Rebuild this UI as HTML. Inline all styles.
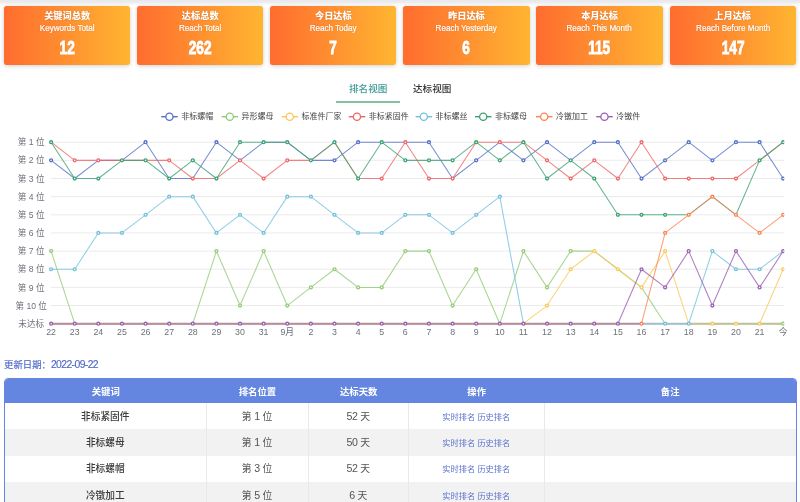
<!DOCTYPE html>
<html lang="zh-CN"><head><meta charset="utf-8"><title>排名统计</title>
<style>
*{margin:0;padding:0;box-sizing:border-box}
html,body{width:800px;height:502px;overflow:hidden;background:#fff;font-family:"Liberation Sans","Noto Sans CJK SC",sans-serif}
.topbar{position:absolute;left:0;top:0;width:800px;height:4.5px;background:linear-gradient(#e8e8eb,#ececef 45%,#fff)}
.card{position:absolute;top:5.5px;width:126.3px;height:59px;border-radius:2.5px;background:linear-gradient(to right,#ff6c2f,#ffb531);box-shadow:0 0 4px rgba(0,0,0,.13),0 2px 4px rgba(0,0,0,.08);color:#fff;text-align:center}
.ct{position:absolute;left:0;right:0;top:4.6px;font-size:9.2px;font-weight:900;line-height:12px;text-shadow:0 0 1.5px rgba(140,50,0,.45)}
.cs{position:absolute;left:0;right:0;top:17.9px;font-size:8.7px;line-height:10px;transform:scaleX(.93);-webkit-text-stroke:.2px #fff;text-shadow:0 0 1.5px rgba(140,50,0,.4)}
.cn{position:absolute;left:0;right:0;top:31.8px;font-family:"Liberation Sans",sans-serif;font-size:17.5px;font-weight:bold;line-height:22px;transform:scaleX(.78);-webkit-text-stroke:.9px #fff;text-shadow:0 0 1.5px rgba(140,50,0,.45)}
.tabs{position:absolute;top:82.4px;left:0;width:800px;height:22px}
.tab{position:absolute;top:0;font-size:9.6px;line-height:13px;color:#333;font-weight:500}
.tab.on{color:#3d9a94}
.uline{position:absolute;left:336px;top:101px;width:64px;height:2px;background:#86c2a0}
.chart{position:absolute;left:0;top:0}
.yl{font-size:8.6px;fill:#6e7079;text-anchor:middle;font-family:"Liberation Sans","Noto Sans CJK SC",sans-serif}
.xl{font-size:8.8px;fill:#6e7079;text-anchor:middle;font-family:"Liberation Sans","Noto Sans CJK SC",sans-serif}
.lg{font-size:8px;fill:#444;font-family:"Liberation Sans","Noto Sans CJK SC",sans-serif}
.upd{position:absolute;left:4px;top:358.8px;font-size:9.4px;line-height:12px;color:#5069c8;-webkit-text-stroke:.15px #5069c8}
.ud{font-size:10.4px;letter-spacing:-.6px}
table{position:absolute;left:4px;top:378px;width:793px;border-collapse:separate;border-spacing:0;border:1px solid #6486e0;border-radius:4px 4px 0 0;overflow:hidden;table-layout:fixed}
th{background:#6486e0;color:#fff;font-weight:bold;font-size:9.4px;height:24px;text-align:center;padding-bottom:0}
td{height:26.4px;font-size:9.8px;text-align:center;color:#555;padding-bottom:1px;border-right:1px solid #e9e9e9}
td:last-child{border-right:none}
tr.odd td{background:#f2f2f2}
.n{font-size:10.6px;letter-spacing:-.3px}
td.kw{color:#3a3a3a;font-weight:500;font-size:9.7px}
td.op{color:#5b70d0;font-size:8.2px}
</style></head><body>
<div class="topbar"></div>
<div class="card" style="left:4.00px"><div class="ct">关键词总数</div><div class="cs">Keywords Total</div><div class="cn">12</div></div>
<div class="card" style="left:137.10px"><div class="ct">达标总数</div><div class="cs">Reach Total</div><div class="cn">262</div></div>
<div class="card" style="left:270.20px"><div class="ct">今日达标</div><div class="cs">Reach Today</div><div class="cn">7</div></div>
<div class="card" style="left:403.30px"><div class="ct">昨日达标</div><div class="cs">Reach Yesterday</div><div class="cn">6</div></div>
<div class="card" style="left:536.40px"><div class="ct">本月达标</div><div class="cs">Reach This Month</div><div class="cn">115</div></div>
<div class="card" style="left:669.50px"><div class="ct">上月达标</div><div class="cs">Reach Before Month</div><div class="cn">147</div></div>
<div class="tabs"><div class="tab on" style="left:349px">排名视图</div><div class="tab" style="left:413px">达标视图</div></div>
<div class="uline"></div>
<svg class="chart" width="800" height="350" viewBox="0 0 800 350">
<defs><clipPath id="clip"><rect x="0" y="120" width="784.2" height="220"/></clipPath></defs>
<line x1="51.1" y1="142.2" x2="784.2" y2="142.2" stroke="#ebebeb" stroke-width="1"/>
<line x1="51.1" y1="160.3" x2="784.2" y2="160.3" stroke="#ebebeb" stroke-width="1"/>
<line x1="51.1" y1="178.5" x2="784.2" y2="178.5" stroke="#ebebeb" stroke-width="1"/>
<line x1="51.1" y1="196.6" x2="784.2" y2="196.6" stroke="#ebebeb" stroke-width="1"/>
<line x1="51.1" y1="214.8" x2="784.2" y2="214.8" stroke="#ebebeb" stroke-width="1"/>
<line x1="51.1" y1="232.9" x2="784.2" y2="232.9" stroke="#ebebeb" stroke-width="1"/>
<line x1="51.1" y1="251.1" x2="784.2" y2="251.1" stroke="#ebebeb" stroke-width="1"/>
<line x1="51.1" y1="269.2" x2="784.2" y2="269.2" stroke="#ebebeb" stroke-width="1"/>
<line x1="51.1" y1="287.4" x2="784.2" y2="287.4" stroke="#ebebeb" stroke-width="1"/>
<line x1="51.1" y1="305.5" x2="784.2" y2="305.5" stroke="#ebebeb" stroke-width="1"/>
<line x1="51.1" y1="323.7" x2="784.2" y2="323.7" stroke="#ebebeb" stroke-width="1"/>
<text x="31.2" y="145.3" class="yl">第 1 位</text>
<text x="31.2" y="163.4" class="yl">第 2 位</text>
<text x="31.2" y="181.6" class="yl">第 3 位</text>
<text x="31.2" y="199.7" class="yl">第 4 位</text>
<text x="31.2" y="217.9" class="yl">第 5 位</text>
<text x="31.2" y="236.0" class="yl">第 6 位</text>
<text x="31.2" y="254.2" class="yl">第 7 位</text>
<text x="31.2" y="272.4" class="yl">第 8 位</text>
<text x="31.2" y="290.5" class="yl">第 9 位</text>
<text x="31.2" y="308.6" class="yl">第 10 位</text>
<text x="31.2" y="326.8" class="yl">未达标</text>
<text x="51.1" y="335.3" class="xl">22</text>
<text x="74.7" y="335.3" class="xl">23</text>
<text x="98.3" y="335.3" class="xl">24</text>
<text x="121.9" y="335.3" class="xl">25</text>
<text x="145.6" y="335.3" class="xl">26</text>
<text x="169.2" y="335.3" class="xl">27</text>
<text x="192.8" y="335.3" class="xl">28</text>
<text x="216.4" y="335.3" class="xl">29</text>
<text x="240.0" y="335.3" class="xl">30</text>
<text x="263.6" y="335.3" class="xl">31</text>
<text x="287.3" y="335.3" class="xl">9月</text>
<text x="310.9" y="335.3" class="xl">2</text>
<text x="334.5" y="335.3" class="xl">3</text>
<text x="358.1" y="335.3" class="xl">4</text>
<text x="381.7" y="335.3" class="xl">5</text>
<text x="405.3" y="335.3" class="xl">6</text>
<text x="429.0" y="335.3" class="xl">7</text>
<text x="452.6" y="335.3" class="xl">8</text>
<text x="476.2" y="335.3" class="xl">9</text>
<text x="499.8" y="335.3" class="xl">10</text>
<text x="523.4" y="335.3" class="xl">11</text>
<text x="547.0" y="335.3" class="xl">12</text>
<text x="570.7" y="335.3" class="xl">13</text>
<text x="594.3" y="335.3" class="xl">14</text>
<text x="617.9" y="335.3" class="xl">15</text>
<text x="641.5" y="335.3" class="xl">16</text>
<text x="665.1" y="335.3" class="xl">17</text>
<text x="688.7" y="335.3" class="xl">18</text>
<text x="712.3" y="335.3" class="xl">19</text>
<text x="736.0" y="335.3" class="xl">20</text>
<text x="759.6" y="335.3" class="xl">21</text>
<text x="783.2" y="335.3" class="xl">今</text>
<g clip-path="url(#clip)">
<polyline points="51.10,160.35 74.72,178.50 98.33,160.35 121.95,160.35 145.56,142.20 169.18,178.50 192.80,178.50 216.41,142.20 240.03,160.35 263.64,142.20 287.26,142.20 310.88,160.35 334.49,160.35 358.11,142.20 381.72,142.20 405.34,142.20 428.96,142.20 452.57,178.50 476.19,160.35 499.80,142.20 523.42,160.35 547.04,142.20 570.65,160.35 594.27,142.20 617.88,142.20 641.50,178.50 665.12,160.35 688.73,142.20 712.35,160.35 735.96,142.20 759.58,142.20 783.20,178.50" fill="none" stroke="#5470c6" stroke-width="1.05" stroke-opacity="0.8" stroke-linejoin="round"/>
<polyline points="51.10,251.10 74.72,323.70 98.33,323.70 121.95,323.70 145.56,323.70 169.18,323.70 192.80,323.70 216.41,251.10 240.03,305.55 263.64,251.10 287.26,305.55 310.88,287.40 334.49,269.25 358.11,287.40 381.72,287.40 405.34,251.10 428.96,251.10 452.57,305.55 476.19,269.25 499.80,323.70 523.42,251.10 547.04,287.40 570.65,251.10 594.27,251.10 617.88,269.25 641.50,287.40 665.12,323.70 688.73,323.70 712.35,323.70 735.96,323.70 759.58,323.70 783.20,323.70" fill="none" stroke="#91cc75" stroke-width="1.05" stroke-opacity="0.8" stroke-linejoin="round"/>
<polyline points="51.10,323.70 74.72,323.70 98.33,323.70 121.95,323.70 145.56,323.70 169.18,323.70 192.80,323.70 216.41,323.70 240.03,323.70 263.64,323.70 287.26,323.70 310.88,323.70 334.49,323.70 358.11,323.70 381.72,323.70 405.34,323.70 428.96,323.70 452.57,323.70 476.19,323.70 499.80,323.70 523.42,323.70 547.04,305.55 570.65,269.25 594.27,251.10 617.88,269.25 641.50,287.40 665.12,251.10 688.73,323.70 712.35,323.70 735.96,323.70 759.58,323.70 783.20,269.25" fill="none" stroke="#fac858" stroke-width="1.05" stroke-opacity="0.8" stroke-linejoin="round"/>
<polyline points="51.10,142.20 74.72,160.35 98.33,160.35 121.95,160.35 145.56,160.35 169.18,160.35 192.80,178.50 216.41,178.50 240.03,160.35 263.64,178.50 287.26,160.35 310.88,160.35 334.49,142.20 358.11,178.50 381.72,178.50 405.34,142.20 428.96,178.50 452.57,178.50 476.19,142.20 499.80,142.20 523.42,142.20 547.04,160.35 570.65,178.50 594.27,160.35 617.88,178.50 641.50,142.20 665.12,178.50 688.73,178.50 712.35,178.50 735.96,178.50 759.58,160.35 783.20,142.20" fill="none" stroke="#ee6666" stroke-width="1.05" stroke-opacity="0.8" stroke-linejoin="round"/>
<polyline points="51.10,269.25 74.72,269.25 98.33,232.95 121.95,232.95 145.56,214.80 169.18,196.65 192.80,196.65 216.41,232.95 240.03,214.80 263.64,232.95 287.26,196.65 310.88,196.65 334.49,214.80 358.11,232.95 381.72,232.95 405.34,214.80 428.96,214.80 452.57,232.95 476.19,214.80 499.80,196.65 523.42,323.70 547.04,323.70 570.65,323.70 594.27,323.70 617.88,323.70 641.50,323.70 665.12,323.70 688.73,323.70 712.35,251.10 735.96,269.25 759.58,269.25 783.20,251.10" fill="none" stroke="#73c0de" stroke-width="1.05" stroke-opacity="0.8" stroke-linejoin="round"/>
<polyline points="51.10,142.20 74.72,178.50 98.33,178.50 121.95,160.35 145.56,160.35 169.18,178.50 192.80,160.35 216.41,178.50 240.03,142.20 263.64,142.20 287.26,142.20 310.88,160.35 334.49,142.20 358.11,178.50 381.72,142.20 405.34,160.35 428.96,160.35 452.57,160.35 476.19,142.20 499.80,160.35 523.42,142.20 547.04,178.50 570.65,160.35 594.27,178.50 617.88,214.80 641.50,214.80 665.12,214.80 688.73,214.80 712.35,196.65 735.96,214.80 759.58,160.35 783.20,142.20" fill="none" stroke="#3ba272" stroke-width="1.05" stroke-opacity="0.8" stroke-linejoin="round"/>
<polyline points="51.10,323.70 74.72,323.70 98.33,323.70 121.95,323.70 145.56,323.70 169.18,323.70 192.80,323.70 216.41,323.70 240.03,323.70 263.64,323.70 287.26,323.70 310.88,323.70 334.49,323.70 358.11,323.70 381.72,323.70 405.34,323.70 428.96,323.70 452.57,323.70 476.19,323.70 499.80,323.70 523.42,323.70 547.04,323.70 570.65,323.70 594.27,323.70 617.88,323.70 641.50,323.70 665.12,232.95 688.73,214.80 712.35,196.65 735.96,214.80 759.58,232.95 783.20,214.80" fill="none" stroke="#fc8452" stroke-width="1.05" stroke-opacity="0.8" stroke-linejoin="round"/>
<polyline points="51.10,323.70 74.72,323.70 98.33,323.70 121.95,323.70 145.56,323.70 169.18,323.70 192.80,323.70 216.41,323.70 240.03,323.70 263.64,323.70 287.26,323.70 310.88,323.70 334.49,323.70 358.11,323.70 381.72,323.70 405.34,323.70 428.96,323.70 452.57,323.70 476.19,323.70 499.80,323.70 523.42,323.70 547.04,323.70 570.65,323.70 594.27,323.70 617.88,323.70 641.50,269.25 665.12,287.40 688.73,251.10 712.35,305.55 735.96,251.10 759.58,287.40 783.20,251.10" fill="none" stroke="#9a60b4" stroke-width="1.05" stroke-opacity="0.8" stroke-linejoin="round"/>
<line x1="51.10" y1="323.70" x2="641.50" y2="323.70" stroke="#b3909e" stroke-width="1.9"/>
<line x1="641.50" y1="323.70" x2="688.73" y2="323.70" stroke="#a2c0c9" stroke-width="1.9"/>
<line x1="688.73" y1="323.70" x2="783.20" y2="323.70" stroke="#c0c197" stroke-width="1.9"/>
<circle cx="51.10" cy="160.35" r="1.45" fill="#fff" stroke="#5470c6" stroke-width="1.35"/>
<circle cx="145.56" cy="142.20" r="1.45" fill="#fff" stroke="#5470c6" stroke-width="1.35"/>
<circle cx="216.41" cy="142.20" r="1.45" fill="#fff" stroke="#5470c6" stroke-width="1.35"/>
<circle cx="334.49" cy="160.35" r="1.45" fill="#fff" stroke="#5470c6" stroke-width="1.35"/>
<circle cx="358.11" cy="142.20" r="1.45" fill="#fff" stroke="#5470c6" stroke-width="1.35"/>
<circle cx="428.96" cy="142.20" r="1.45" fill="#fff" stroke="#5470c6" stroke-width="1.35"/>
<circle cx="476.19" cy="160.35" r="1.45" fill="#fff" stroke="#5470c6" stroke-width="1.35"/>
<circle cx="523.42" cy="160.35" r="1.45" fill="#fff" stroke="#5470c6" stroke-width="1.35"/>
<circle cx="547.04" cy="142.20" r="1.45" fill="#fff" stroke="#5470c6" stroke-width="1.35"/>
<circle cx="594.27" cy="142.20" r="1.45" fill="#fff" stroke="#5470c6" stroke-width="1.35"/>
<circle cx="617.88" cy="142.20" r="1.45" fill="#fff" stroke="#5470c6" stroke-width="1.35"/>
<circle cx="641.50" cy="178.50" r="1.45" fill="#fff" stroke="#5470c6" stroke-width="1.35"/>
<circle cx="665.12" cy="160.35" r="1.45" fill="#fff" stroke="#5470c6" stroke-width="1.35"/>
<circle cx="688.73" cy="142.20" r="1.45" fill="#fff" stroke="#5470c6" stroke-width="1.35"/>
<circle cx="712.35" cy="160.35" r="1.45" fill="#fff" stroke="#5470c6" stroke-width="1.35"/>
<circle cx="735.96" cy="142.20" r="1.45" fill="#fff" stroke="#5470c6" stroke-width="1.35"/>
<circle cx="759.58" cy="142.20" r="1.45" fill="#fff" stroke="#5470c6" stroke-width="1.35"/>
<circle cx="783.20" cy="178.50" r="1.45" fill="#fff" stroke="#5470c6" stroke-width="1.35"/>
<circle cx="51.10" cy="251.10" r="1.45" fill="#fff" stroke="#91cc75" stroke-width="1.35"/>
<circle cx="216.41" cy="251.10" r="1.45" fill="#fff" stroke="#91cc75" stroke-width="1.35"/>
<circle cx="240.03" cy="305.55" r="1.45" fill="#fff" stroke="#91cc75" stroke-width="1.35"/>
<circle cx="263.64" cy="251.10" r="1.45" fill="#fff" stroke="#91cc75" stroke-width="1.35"/>
<circle cx="287.26" cy="305.55" r="1.45" fill="#fff" stroke="#91cc75" stroke-width="1.35"/>
<circle cx="310.88" cy="287.40" r="1.45" fill="#fff" stroke="#91cc75" stroke-width="1.35"/>
<circle cx="334.49" cy="269.25" r="1.45" fill="#fff" stroke="#91cc75" stroke-width="1.35"/>
<circle cx="358.11" cy="287.40" r="1.45" fill="#fff" stroke="#91cc75" stroke-width="1.35"/>
<circle cx="381.72" cy="287.40" r="1.45" fill="#fff" stroke="#91cc75" stroke-width="1.35"/>
<circle cx="405.34" cy="251.10" r="1.45" fill="#fff" stroke="#91cc75" stroke-width="1.35"/>
<circle cx="428.96" cy="251.10" r="1.45" fill="#fff" stroke="#91cc75" stroke-width="1.35"/>
<circle cx="452.57" cy="305.55" r="1.45" fill="#fff" stroke="#91cc75" stroke-width="1.35"/>
<circle cx="476.19" cy="269.25" r="1.45" fill="#fff" stroke="#91cc75" stroke-width="1.35"/>
<circle cx="523.42" cy="251.10" r="1.45" fill="#fff" stroke="#91cc75" stroke-width="1.35"/>
<circle cx="547.04" cy="287.40" r="1.45" fill="#fff" stroke="#91cc75" stroke-width="1.35"/>
<circle cx="570.65" cy="251.10" r="1.45" fill="#fff" stroke="#91cc75" stroke-width="1.35"/>
<circle cx="783.20" cy="323.70" r="1.45" fill="#fff" stroke="#91cc75" stroke-width="1.35"/>
<circle cx="547.04" cy="305.55" r="1.45" fill="#fff" stroke="#fac858" stroke-width="1.35"/>
<circle cx="570.65" cy="269.25" r="1.45" fill="#fff" stroke="#fac858" stroke-width="1.35"/>
<circle cx="594.27" cy="251.10" r="1.45" fill="#fff" stroke="#fac858" stroke-width="1.35"/>
<circle cx="617.88" cy="269.25" r="1.45" fill="#fff" stroke="#fac858" stroke-width="1.35"/>
<circle cx="641.50" cy="287.40" r="1.45" fill="#fff" stroke="#fac858" stroke-width="1.35"/>
<circle cx="665.12" cy="251.10" r="1.45" fill="#fff" stroke="#fac858" stroke-width="1.35"/>
<circle cx="712.35" cy="323.70" r="1.45" fill="#fff" stroke="#fac858" stroke-width="1.35"/>
<circle cx="735.96" cy="323.70" r="1.45" fill="#fff" stroke="#fac858" stroke-width="1.35"/>
<circle cx="759.58" cy="323.70" r="1.45" fill="#fff" stroke="#fac858" stroke-width="1.35"/>
<circle cx="783.20" cy="269.25" r="1.45" fill="#fff" stroke="#fac858" stroke-width="1.35"/>
<circle cx="74.72" cy="160.35" r="1.45" fill="#fff" stroke="#ee6666" stroke-width="1.35"/>
<circle cx="98.33" cy="160.35" r="1.45" fill="#fff" stroke="#ee6666" stroke-width="1.35"/>
<circle cx="169.18" cy="160.35" r="1.45" fill="#fff" stroke="#ee6666" stroke-width="1.35"/>
<circle cx="192.80" cy="178.50" r="1.45" fill="#fff" stroke="#ee6666" stroke-width="1.35"/>
<circle cx="240.03" cy="160.35" r="1.45" fill="#fff" stroke="#ee6666" stroke-width="1.35"/>
<circle cx="263.64" cy="178.50" r="1.45" fill="#fff" stroke="#ee6666" stroke-width="1.35"/>
<circle cx="287.26" cy="160.35" r="1.45" fill="#fff" stroke="#ee6666" stroke-width="1.35"/>
<circle cx="381.72" cy="178.50" r="1.45" fill="#fff" stroke="#ee6666" stroke-width="1.35"/>
<circle cx="405.34" cy="142.20" r="1.45" fill="#fff" stroke="#ee6666" stroke-width="1.35"/>
<circle cx="428.96" cy="178.50" r="1.45" fill="#fff" stroke="#ee6666" stroke-width="1.35"/>
<circle cx="452.57" cy="178.50" r="1.45" fill="#fff" stroke="#ee6666" stroke-width="1.35"/>
<circle cx="499.80" cy="142.20" r="1.45" fill="#fff" stroke="#ee6666" stroke-width="1.35"/>
<circle cx="547.04" cy="160.35" r="1.45" fill="#fff" stroke="#ee6666" stroke-width="1.35"/>
<circle cx="570.65" cy="178.50" r="1.45" fill="#fff" stroke="#ee6666" stroke-width="1.35"/>
<circle cx="594.27" cy="160.35" r="1.45" fill="#fff" stroke="#ee6666" stroke-width="1.35"/>
<circle cx="617.88" cy="178.50" r="1.45" fill="#fff" stroke="#ee6666" stroke-width="1.35"/>
<circle cx="641.50" cy="142.20" r="1.45" fill="#fff" stroke="#ee6666" stroke-width="1.35"/>
<circle cx="665.12" cy="178.50" r="1.45" fill="#fff" stroke="#ee6666" stroke-width="1.35"/>
<circle cx="688.73" cy="178.50" r="1.45" fill="#fff" stroke="#ee6666" stroke-width="1.35"/>
<circle cx="712.35" cy="178.50" r="1.45" fill="#fff" stroke="#ee6666" stroke-width="1.35"/>
<circle cx="735.96" cy="178.50" r="1.45" fill="#fff" stroke="#ee6666" stroke-width="1.35"/>
<circle cx="51.10" cy="269.25" r="1.45" fill="#fff" stroke="#73c0de" stroke-width="1.35"/>
<circle cx="74.72" cy="269.25" r="1.45" fill="#fff" stroke="#73c0de" stroke-width="1.35"/>
<circle cx="98.33" cy="232.95" r="1.45" fill="#fff" stroke="#73c0de" stroke-width="1.35"/>
<circle cx="121.95" cy="232.95" r="1.45" fill="#fff" stroke="#73c0de" stroke-width="1.35"/>
<circle cx="145.56" cy="214.80" r="1.45" fill="#fff" stroke="#73c0de" stroke-width="1.35"/>
<circle cx="169.18" cy="196.65" r="1.45" fill="#fff" stroke="#73c0de" stroke-width="1.35"/>
<circle cx="192.80" cy="196.65" r="1.45" fill="#fff" stroke="#73c0de" stroke-width="1.35"/>
<circle cx="216.41" cy="232.95" r="1.45" fill="#fff" stroke="#73c0de" stroke-width="1.35"/>
<circle cx="240.03" cy="214.80" r="1.45" fill="#fff" stroke="#73c0de" stroke-width="1.35"/>
<circle cx="263.64" cy="232.95" r="1.45" fill="#fff" stroke="#73c0de" stroke-width="1.35"/>
<circle cx="287.26" cy="196.65" r="1.45" fill="#fff" stroke="#73c0de" stroke-width="1.35"/>
<circle cx="310.88" cy="196.65" r="1.45" fill="#fff" stroke="#73c0de" stroke-width="1.35"/>
<circle cx="334.49" cy="214.80" r="1.45" fill="#fff" stroke="#73c0de" stroke-width="1.35"/>
<circle cx="358.11" cy="232.95" r="1.45" fill="#fff" stroke="#73c0de" stroke-width="1.35"/>
<circle cx="381.72" cy="232.95" r="1.45" fill="#fff" stroke="#73c0de" stroke-width="1.35"/>
<circle cx="405.34" cy="214.80" r="1.45" fill="#fff" stroke="#73c0de" stroke-width="1.35"/>
<circle cx="428.96" cy="214.80" r="1.45" fill="#fff" stroke="#73c0de" stroke-width="1.35"/>
<circle cx="452.57" cy="232.95" r="1.45" fill="#fff" stroke="#73c0de" stroke-width="1.35"/>
<circle cx="476.19" cy="214.80" r="1.45" fill="#fff" stroke="#73c0de" stroke-width="1.35"/>
<circle cx="499.80" cy="196.65" r="1.45" fill="#fff" stroke="#73c0de" stroke-width="1.35"/>
<circle cx="665.12" cy="323.70" r="1.45" fill="#fff" stroke="#73c0de" stroke-width="1.35"/>
<circle cx="688.73" cy="323.70" r="1.45" fill="#fff" stroke="#73c0de" stroke-width="1.35"/>
<circle cx="712.35" cy="251.10" r="1.45" fill="#fff" stroke="#73c0de" stroke-width="1.35"/>
<circle cx="735.96" cy="269.25" r="1.45" fill="#fff" stroke="#73c0de" stroke-width="1.35"/>
<circle cx="759.58" cy="269.25" r="1.45" fill="#fff" stroke="#73c0de" stroke-width="1.35"/>
<circle cx="51.10" cy="142.20" r="1.45" fill="#fff" stroke="#3ba272" stroke-width="1.35"/>
<circle cx="74.72" cy="178.50" r="1.45" fill="#fff" stroke="#3ba272" stroke-width="1.35"/>
<circle cx="98.33" cy="178.50" r="1.45" fill="#fff" stroke="#3ba272" stroke-width="1.35"/>
<circle cx="121.95" cy="160.35" r="1.45" fill="#fff" stroke="#3ba272" stroke-width="1.35"/>
<circle cx="145.56" cy="160.35" r="1.45" fill="#fff" stroke="#3ba272" stroke-width="1.35"/>
<circle cx="169.18" cy="178.50" r="1.45" fill="#fff" stroke="#3ba272" stroke-width="1.35"/>
<circle cx="192.80" cy="160.35" r="1.45" fill="#fff" stroke="#3ba272" stroke-width="1.35"/>
<circle cx="216.41" cy="178.50" r="1.45" fill="#fff" stroke="#3ba272" stroke-width="1.35"/>
<circle cx="240.03" cy="142.20" r="1.45" fill="#fff" stroke="#3ba272" stroke-width="1.35"/>
<circle cx="263.64" cy="142.20" r="1.45" fill="#fff" stroke="#3ba272" stroke-width="1.35"/>
<circle cx="287.26" cy="142.20" r="1.45" fill="#fff" stroke="#3ba272" stroke-width="1.35"/>
<circle cx="310.88" cy="160.35" r="1.45" fill="#fff" stroke="#3ba272" stroke-width="1.35"/>
<circle cx="334.49" cy="142.20" r="1.45" fill="#fff" stroke="#3ba272" stroke-width="1.35"/>
<circle cx="358.11" cy="178.50" r="1.45" fill="#fff" stroke="#3ba272" stroke-width="1.35"/>
<circle cx="381.72" cy="142.20" r="1.45" fill="#fff" stroke="#3ba272" stroke-width="1.35"/>
<circle cx="405.34" cy="160.35" r="1.45" fill="#fff" stroke="#3ba272" stroke-width="1.35"/>
<circle cx="428.96" cy="160.35" r="1.45" fill="#fff" stroke="#3ba272" stroke-width="1.35"/>
<circle cx="452.57" cy="160.35" r="1.45" fill="#fff" stroke="#3ba272" stroke-width="1.35"/>
<circle cx="476.19" cy="142.20" r="1.45" fill="#fff" stroke="#3ba272" stroke-width="1.35"/>
<circle cx="499.80" cy="160.35" r="1.45" fill="#fff" stroke="#3ba272" stroke-width="1.35"/>
<circle cx="523.42" cy="142.20" r="1.45" fill="#fff" stroke="#3ba272" stroke-width="1.35"/>
<circle cx="547.04" cy="178.50" r="1.45" fill="#fff" stroke="#3ba272" stroke-width="1.35"/>
<circle cx="570.65" cy="160.35" r="1.45" fill="#fff" stroke="#3ba272" stroke-width="1.35"/>
<circle cx="594.27" cy="178.50" r="1.45" fill="#fff" stroke="#3ba272" stroke-width="1.35"/>
<circle cx="617.88" cy="214.80" r="1.45" fill="#fff" stroke="#3ba272" stroke-width="1.35"/>
<circle cx="641.50" cy="214.80" r="1.45" fill="#fff" stroke="#3ba272" stroke-width="1.35"/>
<circle cx="665.12" cy="214.80" r="1.45" fill="#fff" stroke="#3ba272" stroke-width="1.35"/>
<circle cx="759.58" cy="160.35" r="1.45" fill="#fff" stroke="#3ba272" stroke-width="1.35"/>
<circle cx="783.20" cy="142.20" r="1.45" fill="#fff" stroke="#3ba272" stroke-width="1.35"/>
<circle cx="641.50" cy="323.70" r="1.45" fill="#fff" stroke="#fc8452" stroke-width="1.35"/>
<circle cx="665.12" cy="232.95" r="1.45" fill="#fff" stroke="#fc8452" stroke-width="1.35"/>
<circle cx="688.73" cy="214.80" r="1.45" fill="#fff" stroke="#fc8452" stroke-width="1.35"/>
<circle cx="712.35" cy="196.65" r="1.45" fill="#fff" stroke="#fc8452" stroke-width="1.35"/>
<circle cx="735.96" cy="214.80" r="1.45" fill="#fff" stroke="#fc8452" stroke-width="1.35"/>
<circle cx="759.58" cy="232.95" r="1.45" fill="#fff" stroke="#fc8452" stroke-width="1.35"/>
<circle cx="783.20" cy="214.80" r="1.45" fill="#fff" stroke="#fc8452" stroke-width="1.35"/>
<circle cx="51.10" cy="323.70" r="1.45" fill="#fff" stroke="#9a60b4" stroke-width="1.35"/>
<circle cx="74.72" cy="323.70" r="1.45" fill="#fff" stroke="#9a60b4" stroke-width="1.35"/>
<circle cx="98.33" cy="323.70" r="1.45" fill="#fff" stroke="#9a60b4" stroke-width="1.35"/>
<circle cx="121.95" cy="323.70" r="1.45" fill="#fff" stroke="#9a60b4" stroke-width="1.35"/>
<circle cx="145.56" cy="323.70" r="1.45" fill="#fff" stroke="#9a60b4" stroke-width="1.35"/>
<circle cx="169.18" cy="323.70" r="1.45" fill="#fff" stroke="#9a60b4" stroke-width="1.35"/>
<circle cx="192.80" cy="323.70" r="1.45" fill="#fff" stroke="#9a60b4" stroke-width="1.35"/>
<circle cx="216.41" cy="323.70" r="1.45" fill="#fff" stroke="#9a60b4" stroke-width="1.35"/>
<circle cx="240.03" cy="323.70" r="1.45" fill="#fff" stroke="#9a60b4" stroke-width="1.35"/>
<circle cx="263.64" cy="323.70" r="1.45" fill="#fff" stroke="#9a60b4" stroke-width="1.35"/>
<circle cx="287.26" cy="323.70" r="1.45" fill="#fff" stroke="#9a60b4" stroke-width="1.35"/>
<circle cx="310.88" cy="323.70" r="1.45" fill="#fff" stroke="#9a60b4" stroke-width="1.35"/>
<circle cx="334.49" cy="323.70" r="1.45" fill="#fff" stroke="#9a60b4" stroke-width="1.35"/>
<circle cx="358.11" cy="323.70" r="1.45" fill="#fff" stroke="#9a60b4" stroke-width="1.35"/>
<circle cx="381.72" cy="323.70" r="1.45" fill="#fff" stroke="#9a60b4" stroke-width="1.35"/>
<circle cx="405.34" cy="323.70" r="1.45" fill="#fff" stroke="#9a60b4" stroke-width="1.35"/>
<circle cx="428.96" cy="323.70" r="1.45" fill="#fff" stroke="#9a60b4" stroke-width="1.35"/>
<circle cx="452.57" cy="323.70" r="1.45" fill="#fff" stroke="#9a60b4" stroke-width="1.35"/>
<circle cx="476.19" cy="323.70" r="1.45" fill="#fff" stroke="#9a60b4" stroke-width="1.35"/>
<circle cx="499.80" cy="323.70" r="1.45" fill="#fff" stroke="#9a60b4" stroke-width="1.35"/>
<circle cx="523.42" cy="323.70" r="1.45" fill="#fff" stroke="#9a60b4" stroke-width="1.35"/>
<circle cx="547.04" cy="323.70" r="1.45" fill="#fff" stroke="#9a60b4" stroke-width="1.35"/>
<circle cx="570.65" cy="323.70" r="1.45" fill="#fff" stroke="#9a60b4" stroke-width="1.35"/>
<circle cx="594.27" cy="323.70" r="1.45" fill="#fff" stroke="#9a60b4" stroke-width="1.35"/>
<circle cx="617.88" cy="323.70" r="1.45" fill="#fff" stroke="#9a60b4" stroke-width="1.35"/>
<circle cx="641.50" cy="269.25" r="1.45" fill="#fff" stroke="#9a60b4" stroke-width="1.35"/>
<circle cx="665.12" cy="287.40" r="1.45" fill="#fff" stroke="#9a60b4" stroke-width="1.35"/>
<circle cx="688.73" cy="251.10" r="1.45" fill="#fff" stroke="#9a60b4" stroke-width="1.35"/>
<circle cx="712.35" cy="305.55" r="1.45" fill="#fff" stroke="#9a60b4" stroke-width="1.35"/>
<circle cx="735.96" cy="251.10" r="1.45" fill="#fff" stroke="#9a60b4" stroke-width="1.35"/>
<circle cx="759.58" cy="287.40" r="1.45" fill="#fff" stroke="#9a60b4" stroke-width="1.35"/>
<circle cx="783.20" cy="251.10" r="1.45" fill="#fff" stroke="#9a60b4" stroke-width="1.35"/>
</g>
<line x1="161.25" y1="116.70" x2="177.75" y2="116.70" stroke="#5470c6" stroke-width="1.4"/>
<circle cx="169.45" cy="116.70" r="3.6" fill="#fff" stroke="#5470c6" stroke-width="1.3"/>
<text x="181.25" y="118.90" class="lg">非标螺帽</text>
<line x1="221.60" y1="116.70" x2="238.10" y2="116.70" stroke="#91cc75" stroke-width="1.4"/>
<circle cx="229.80" cy="116.70" r="3.6" fill="#fff" stroke="#91cc75" stroke-width="1.3"/>
<text x="241.60" y="118.90" class="lg">异形螺母</text>
<line x1="281.60" y1="116.70" x2="298.10" y2="116.70" stroke="#fac858" stroke-width="1.4"/>
<circle cx="289.80" cy="116.70" r="3.6" fill="#fff" stroke="#fac858" stroke-width="1.3"/>
<text x="301.60" y="118.90" class="lg">标准件厂家</text>
<line x1="348.75" y1="116.70" x2="365.25" y2="116.70" stroke="#ee6666" stroke-width="1.4"/>
<circle cx="356.95" cy="116.70" r="3.6" fill="#fff" stroke="#ee6666" stroke-width="1.3"/>
<text x="368.75" y="118.90" class="lg">非标紧固件</text>
<line x1="415.60" y1="116.70" x2="432.10" y2="116.70" stroke="#73c0de" stroke-width="1.4"/>
<circle cx="423.80" cy="116.70" r="3.6" fill="#fff" stroke="#73c0de" stroke-width="1.3"/>
<text x="435.60" y="118.90" class="lg">非标螺丝</text>
<line x1="475.00" y1="116.70" x2="491.50" y2="116.70" stroke="#3ba272" stroke-width="1.4"/>
<circle cx="483.20" cy="116.70" r="3.6" fill="#fff" stroke="#3ba272" stroke-width="1.3"/>
<text x="495.00" y="118.90" class="lg">非标螺母</text>
<line x1="536.00" y1="116.70" x2="552.50" y2="116.70" stroke="#fc8452" stroke-width="1.4"/>
<circle cx="544.20" cy="116.70" r="3.6" fill="#fff" stroke="#fc8452" stroke-width="1.3"/>
<text x="556.00" y="118.90" class="lg">冷镦加工</text>
<line x1="596.25" y1="116.70" x2="612.75" y2="116.70" stroke="#9a60b4" stroke-width="1.4"/>
<circle cx="604.45" cy="116.70" r="3.6" fill="#fff" stroke="#9a60b4" stroke-width="1.3"/>
<text x="616.25" y="118.90" class="lg">冷镦件</text>
</svg>
<div class="upd">更新日期：<span class="ud">2022-09-22</span></div>
<table><colgroup><col style="width:201.5px"><col style="width:102px"><col style="width:100.5px"><col style="width:135.5px"><col></colgroup>
<tr><th>关键词</th><th>排名位置</th><th>达标天数</th><th>操作</th><th>备注</th></tr>
<tr class=""><td class="kw">非标紧固件</td><td>第 <span class=n>1</span> 位</td><td><span class=n>52</span> 天</td><td class="op"><span>实时排名</span> <span>历史排名</span></td><td></td></tr>
<tr class="odd"><td class="kw">非标螺母</td><td>第 <span class=n>1</span> 位</td><td><span class=n>50</span> 天</td><td class="op"><span>实时排名</span> <span>历史排名</span></td><td></td></tr>
<tr class=""><td class="kw">非标螺帽</td><td>第 <span class=n>3</span> 位</td><td><span class=n>52</span> 天</td><td class="op"><span>实时排名</span> <span>历史排名</span></td><td></td></tr>
<tr class="odd"><td class="kw">冷镦加工</td><td>第 <span class=n>5</span> 位</td><td><span class=n>6</span> 天</td><td class="op"><span>实时排名</span> <span>历史排名</span></td><td></td></tr>
</table>
</body></html>
